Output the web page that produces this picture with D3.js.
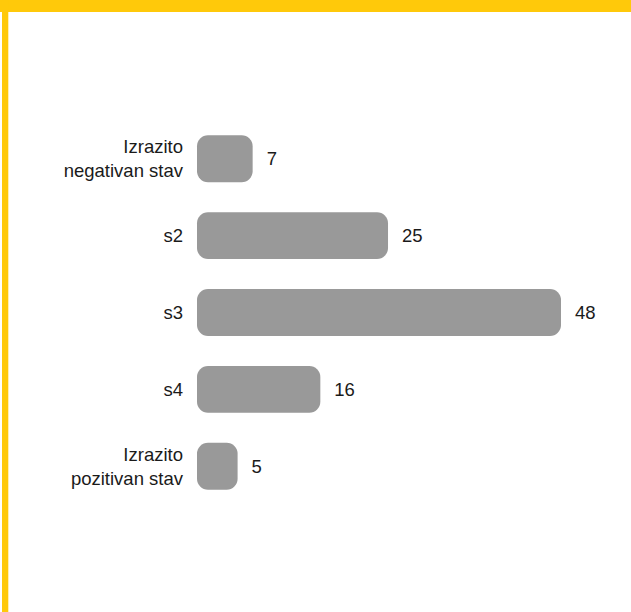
<!DOCTYPE html>
<html><head><meta charset="utf-8">
<script src="https://cdn.jsdelivr.net/npm/d3@7"></script>
<style>body{margin:0;background:#fff}svg{display:block}</style>
</head><body>
<script>
const categories = [["Izrazito","negativan stav"],["s2"],["s3"],["s4"],["Izrazito","pozitivan stav"]];
const values = [7, 25, 48, 16, 5];

const W = 631, H = 612;
const svg = d3.select("body").append("svg").attr("width", W).attr("height", H);

// yellow frame
svg.append("rect").attr("x", 0).attr("y", 0).attr("width", W).attr("height", 12).attr("fill", "#FFC90A");
svg.append("rect").attr("x", 2).attr("y", 0).attr("width", 6.3).attr("height", H).attr("fill", "#FFC90A");

const x = d3.scaleLinear().domain([0, 48]).range([197, 558]);
const y = d3.scaleBand().domain(d3.range(values.length)).range([120, 505]).paddingInner(0.39).paddingOuter(0.2);

const font = "Liberation Sans, Arial, Helvetica, sans-serif";
const g = svg.append("g");
values.forEach((v, i) => {
  const yc = y(i) + y.bandwidth() / 2;
  const w = Math.max(x(v) - x(0) + 3, 24);
  g.append("rect")
    .attr("x", x(0)).attr("y", y(i))
    .attr("width", w).attr("height", y.bandwidth())
    .attr("rx", 11).attr("ry", 11)
    .attr("fill", "#999999");
  g.append("text")
    .attr("x", x(0) + w + 14).attr("y", yc)
    .attr("dy", "0.35em")
    .attr("font-family", font).attr("font-size", 18.5)
    .attr("fill", "#1a1a1a").text(v);
  const lines = categories[i];
  const t = g.append("text")
    .attr("text-anchor", "end")
    .attr("font-family", font).attr("font-size", 18.5)
    .attr("fill", "#1a1a1a");
  lines.forEach((l, j) => {
    t.append("tspan").attr("x", 183)
      .attr("y", yc + (j - (lines.length - 1) / 2) * 24)
      .attr("dy", "0.35em").text(l);
  });
});
</script>
</body></html>
